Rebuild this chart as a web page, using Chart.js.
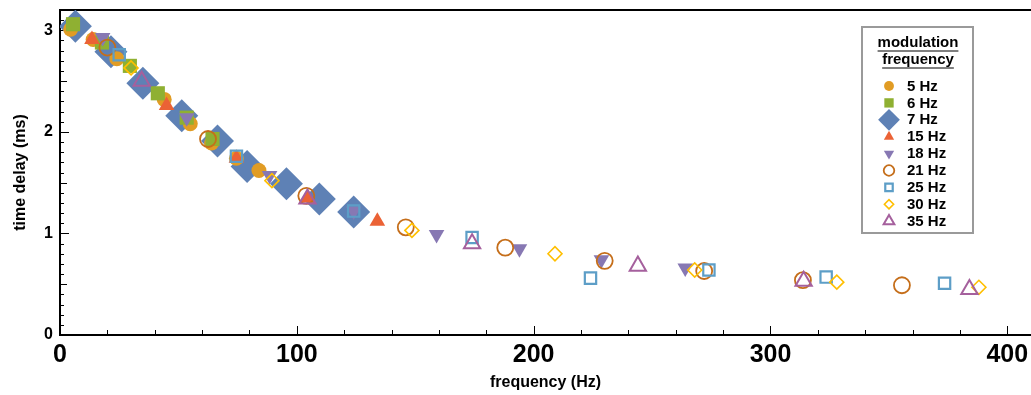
<!DOCTYPE html>
<html><head><meta charset="utf-8">
<script src="https://cdn.jsdelivr.net/npm/chart.js@4.4.1/dist/chart.umd.min.js"></script>
<style>html,body{margin:0;padding:0;background:#fff}</style>
</head><body>
<canvas id="c" width="1031" height="395"></canvas>
<script>
// ---- data ----
const seriesLabels = ['5 Hz','6 Hz','7 Hz','15 Hz','18 Hz','21 Hz','25 Hz','30 Hz','35 Hz'];
const x5  = [4.5, 14, 24, 44, 55, 64, 74.5, 84];
const y5  = [3.01, 2.91, 2.72, 2.32, 2.08, 1.89, 1.74, 1.62];
const x6  = [5.5, 17.7, 29.5, 41.3, 53.5, 64.4];
const y6  = [3.06, 2.88, 2.65, 2.38, 2.14, 1.93];
const x7  = [6.5, 21.5, 35, 51.4, 66.5, 79, 95.6, 109.5, 124];
const y7  = [3.04, 2.79, 2.48, 2.16, 1.91, 1.66, 1.49, 1.34, 1.21];
const x15 = [13.5, 45, 74.5, 104.5, 134];
const y15 = [2.91, 2.26, 1.74, 1.35, 1.12];
const x18 = [18, 53.5, 88.5, 124, 159, 194, 228.6, 264];
const y18 = [2.93, 2.14, 1.57, 1.22, 0.99, 0.85, 0.74, 0.66];
const x21 = [20, 62.5, 104, 146, 188, 230, 272, 313.7, 355.5];
const y21 = [2.83, 1.93, 1.37, 1.06, 0.86, 0.73, 0.63, 0.54, 0.49];
const x25 = [25, 74.5, 124, 174, 224, 274, 323.5, 373.5];
const y25 = [2.76, 1.76, 1.22, 0.96, 0.56, 0.64, 0.57, 0.51];
const x30 = [30, 89.5, 148.6, 209, 268, 328, 388];
const y30 = [2.63, 1.52, 1.03, 0.80, 0.64, 0.52, 0.47];
const x35 = [34.5, 104.5, 174, 244, 314, 384];
const y35 = [2.50, 1.34, 0.90, 0.68, 0.53, 0.45];
const xTickValues = [0, 100, 200, 300, 400];
const yTickValues = [0, 1, 2, 3];

const FONT = "'Liberation Sans', Arial, Helvetica, sans-serif";
const pts = (xs, ys) => xs.map((x, i) => ({x, y: ys[i]}));

function ds(label, xs, ys, style, color, radius, open, order, extra) {
  return Object.assign({
    label, data: pts(xs, ys), order,
    pointStyle: style, pointRadius: radius, pointHoverRadius: radius,
    backgroundColor: open ? 'rgba(0,0,0,0)' : color,
    borderColor: color,
    pointBorderWidth: open ? open : 0,
    showLine: false
  }, extra || {});
}

const datasets = [
  ds(seriesLabels[0], x5,  y5,  'circle',  '#E19C24', 7.5, 0, 7),
  ds(seriesLabels[1], x6,  y6,  'rect',    '#8FB032', 10,  0, 6),
  ds(seriesLabels[2], x7,  y7,  'rectRot', '#5E81B5', 16.5,0, 8),
  ds(seriesLabels[3], x15, y15, 'triangle','#EB6235', 9,   0, 5),
  ds(seriesLabels[4], x18, y18, 'triangle','#8778B3', 9,   0, 4, {pointRotation: 180}),
  ds(seriesLabels[5], x21, y21, 'circle',  '#C56E1A', 8,   1.8, 3),
  ds(seriesLabels[6], x25, y25, 'rect',    '#5D9EC7', 8,   2.2, 2),
  ds(seriesLabels[7], x30, y30, 'rectRot', '#FFBF00', 7,   1.6, 1),
  ds(seriesLabels[8], x35, y35, 'triangle','#A5609D', 9.4, 2,   0)
];

const framePlugin = {
  id: 'frame',
  beforeDatasetsDraw(chart) {
    const {ctx, chartArea: a, scales: {x, y}} = chart;
    ctx.save();
    ctx.strokeStyle = '#000';
    ctx.lineWidth = 2;
    ctx.beginPath(); ctx.moveTo(a.left, a.top); ctx.lineTo(a.right, a.top); ctx.stroke();
    ctx.lineWidth = 1;
    for (let v = 0; v <= x.max; v += 20) {
      const px = Math.round(x.getPixelForValue(v)) + 0.5;
      const len = (v % 100 === 0) ? 9 : 5;
      ctx.beginPath(); ctx.moveTo(px, a.bottom); ctx.lineTo(px, a.bottom - len); ctx.stroke();
    }
    for (let k = 0; k <= 32; k++) {
      const v = k / 10;
      const py = Math.round(y.getPixelForValue(v)) + 0.5;
      const len = (k % 10 === 0) ? 9 : (k % 5 === 0 ? 7 : 4);
      ctx.beginPath(); ctx.moveTo(a.left, py); ctx.lineTo(a.left + len, py); ctx.stroke();
    }
    ctx.restore();
  }
};

const legendPlugin = {
  id: 'boxLegend',
  afterDraw(chart) {
    const ctx = chart.ctx;
    ctx.save();
    const bx = 862, by = 27, bw = 111, bh = 206;
    ctx.fillStyle = '#fff';
    ctx.fillRect(bx, by, bw, bh);
    ctx.strokeStyle = '#9a9a9a';
    ctx.lineWidth = 2;
    ctx.strokeRect(bx, by, bw, bh);
    ctx.fillStyle = '#000';
    ctx.strokeStyle = '#000';
    ctx.font = 'bold 15px ' + FONT;
    ctx.textAlign = 'center';
    ctx.textBaseline = 'middle';
    const titles = [['modulation', 43], ['frequency', 60]];
    ctx.lineWidth = 1.2;
    titles.forEach(([t, ty]) => {
      ctx.fillText(t, 918, ty);
      const w = ctx.measureText(t).width;
      ctx.beginPath(); ctx.moveTo(918 - w / 2, ty + 8); ctx.lineTo(918 + w / 2, ty + 8); ctx.stroke();
    });
    ctx.textAlign = 'left';
    chart.data.datasets.forEach((d, i) => {
      const ly = 86 + i * 16.9;
      ctx.save();
      ctx.fillStyle = d.backgroundColor;
      ctx.strokeStyle = d.borderColor;
      ctx.lineWidth = d.pointBorderWidth;
      Chart.helpers.drawPoint(ctx, {
        pointStyle: d.pointStyle,
        rotation: d.pointRotation || 0,
        radius: d.pointRadius * 0.66,
        borderWidth: d.pointBorderWidth
      }, 889, ly);
      ctx.restore();
      ctx.fillStyle = '#000';
      ctx.fillText(d.label, 907, ly + 0.5);
    });
    ctx.restore();
  }
};

new Chart(document.getElementById('c'), {
  type: 'scatter',
  data: {datasets},
  options: {
    responsive: false,
    devicePixelRatio: 1,
    animation: false,
    events: [],
    layout: {autoPadding: false, padding: {top: 10, right: 0, left: 0, bottom: 0}},
    plugins: {legend: {display: false}, tooltip: {enabled: false}},
    scales: {
      x: {
        type: 'linear', min: 0, max: 410,
        afterBuildTicks(s) { s.ticks = xTickValues.map(v => ({value: v})); },
        afterFit(s) { s.height = 60; s.paddingLeft = 0; s.paddingRight = 0; },
        grid: {drawOnChartArea: false, drawTicks: false},
        border: {display: true, color: '#000', width: 2},
        ticks: {color: '#000', padding: 5, maxRotation: 0, font: {family: FONT, size: 25, weight: 'bold'}},
        title: {display: true, text: 'frequency (Hz)', color: '#000', padding: {top: 0, bottom: 3}, font: {family: FONT, size: 16, weight: 'bold'}}
      },
      y: {
        type: 'linear', min: 0, max: 3.2,
        afterBuildTicks(s) { s.ticks = yTickValues.map(v => ({value: v})); },
        afterFit(s) { s.width = 60; s.paddingTop = 0; s.paddingBottom = 0; },
        grid: {drawOnChartArea: false, drawTicks: false},
        border: {display: true, color: '#000', width: 2},
        ticks: {color: '#000', padding: 7, font: {family: FONT, size: 16, weight: 'bold'}},
        title: {display: true, text: 'time delay (ms)', color: '#000', padding: {top: 11, bottom: 0}, font: {family: FONT, size: 16, weight: 'bold'}}
      }
    }
  },
  plugins: [framePlugin, legendPlugin]
});
</script>
</body></html>
